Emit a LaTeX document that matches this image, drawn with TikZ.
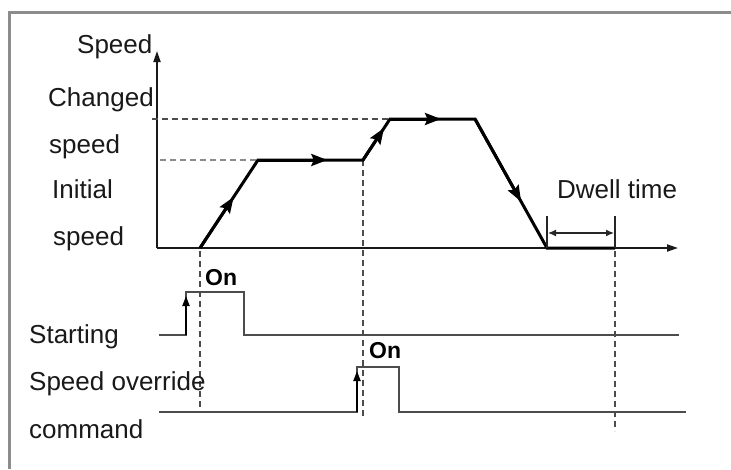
\documentclass[tikz,border=0pt]{standalone}
\usepackage{fontspec}
\setmainfont{Liberation Sans}
\usetikzlibrary{arrows.meta,calc}
\begin{document}
\begin{tikzpicture}[x=1pt,y=-1pt,
  lbl/.style={font=\fontsize{26}{30}\selectfont, inner sep=0pt, anchor=base west, text=black!90},
  onlbl/.style={font=\bfseries\fontsize{23}{26}\selectfont, inner sep=0pt, anchor=base west},
  frame/.style={line width=3pt, black!45},
  axis/.style={line width=1.8pt, black!90, -{Triangle[length=11pt,width=7pt]}},
  prof/.style={line width=3pt, black, line join=miter},
  guide/.style={line width=1.5pt, black!70, dash pattern=on 6pt off 4pt},
  sig/.style={line width=2pt, black!70, line join=miter},
  profarrow/.style={line width=3pt, black, -{Stealth[length=16pt,width=12pt,inset=2.5pt]}},
  sigarrow/.style={line width=2pt, black, -{Triangle[length=10pt,width=7pt]}},
  tick/.style={line width=1.3pt, black!85},
  dwell/.style={line width=1.3pt, black!85, {Latex[length=8pt,width=7pt]}-{Latex[length=8pt,width=7pt]}}
]
\useasboundingbox (0,0) rectangle (731,469);
% frame (top and left edges)
\coordinate (fbl) at (9,469);
\coordinate (ftl) at (9,12);
\coordinate (ftr) at (731,12);
\draw[frame] (fbl) -- (ftl) -- (ftr);

% axes
\coordinate (O) at (157,248);
\coordinate (ytip) at (157,51);
\coordinate (xtip) at (678,248);
\draw[axis] (O) -- (ytip);
\draw[axis] (O) -- (xtip);

% profile points
\coordinate (p0) at (200,248);
\coordinate (p1) at (258,160);
\coordinate (p2) at (363,160);
\coordinate (p3) at (390,119);
\coordinate (p4) at (475,119);
\coordinate (p5) at (547,248);
\coordinate (p6) at (615,248);

% reference dashed levels
\coordinate (cs) at (152,119);
\coordinate (is) at (160,160);
\draw[guide] (cs) -- (p3);
\draw[guide, line width=2.2pt, black!45] (is) -- (p1);

% vertical guides
\coordinate (g1a) at (200,251);
\coordinate (g1b) at (200,407);
\coordinate (g2b) at (363,418);
\coordinate (g3a) at (615,251);
\coordinate (g3b) at (615,431);
\draw[guide] (g1a) -- (g1b);
\draw[guide] (p2) -- (g2b);
\draw[guide] (g3a) -- (g3b);

% profile
\draw[prof] (p0) -- (p1) -- (p2) -- (p3) -- (p4) -- (p5) -- (p6);
\coordinate (a1) at ($(p0)!0.58!(p1)$);
\coordinate (a2) at ($(p1)!0.66!(p2)$);
\coordinate (a3) at ($(p2)!0.78!(p3)$);
\coordinate (a4) at ($(p3)!0.6!(p4)$);
\coordinate (a5) at ($(p4)!0.64!(p5)$);
\draw[profarrow] (p0) -- (a1);
\draw[profarrow] (p1) -- (a2);
\draw[profarrow] (p2) -- (a3);
\draw[profarrow] (p3) -- (a4);
\draw[profarrow] (p4) -- (a5);

% dwell time
\coordinate (d1t) at (547,216);
\coordinate (d2t) at (615,216);
\coordinate (d1a) at (548,233);
\coordinate (d2a) at (614,233);
\draw[tick] (d1t) -- (p5);
\draw[tick] (d2t) -- (p6);
\draw[dwell] (d1a) -- (d2a);

% starting signal
\coordinate (s0) at (159,335);
\coordinate (s1) at (186,335);
\coordinate (s2) at (186,292);
\coordinate (s3) at (244,292);
\coordinate (s4) at (244,335);
\coordinate (s5) at (679,335);
\draw[sig] (s0) -- (s1) -- (s2) -- (s3) -- (s4) -- (s5);
\coordinate (sa) at (186,296);
\draw[sigarrow] (s1) -- (sa);

% speed override signal
\coordinate (o0) at (159,412);
\coordinate (o1) at (357,412);
\coordinate (o2) at (357,367);
\coordinate (o3) at (399,367);
\coordinate (o4) at (399,412);
\coordinate (o5) at (686,412);
\draw[sig] (o0) -- (o1) -- (o2) -- (o3) -- (o4) -- (o5);
\coordinate (oa) at (357,371);
\draw[sigarrow] (o1) -- (oa);

% labels
\node[lbl] (tspeed) at (77,53) {Speed};
\node[lbl] (tchanged) at (48,106) {Changed};
\node[lbl] (tspeed1) at (49,153) {speed};
\node[lbl] (tinitial) at (52,198) {Initial};
\node[lbl] (tspeed2) at (53,245) {speed};
\node[lbl] (tdwell) at (557,198) {Dwell time};
\node[lbl] (tstart) at (29,343) {Starting};
\node[lbl] (tover) at (29,390) {Speed override};
\node[lbl] (tcmd) at (29,438) {command};
\node[onlbl] (on1) at (205,285) {On};
\node[onlbl] (on2) at (369,358) {On};
\end{tikzpicture}
\end{document}
